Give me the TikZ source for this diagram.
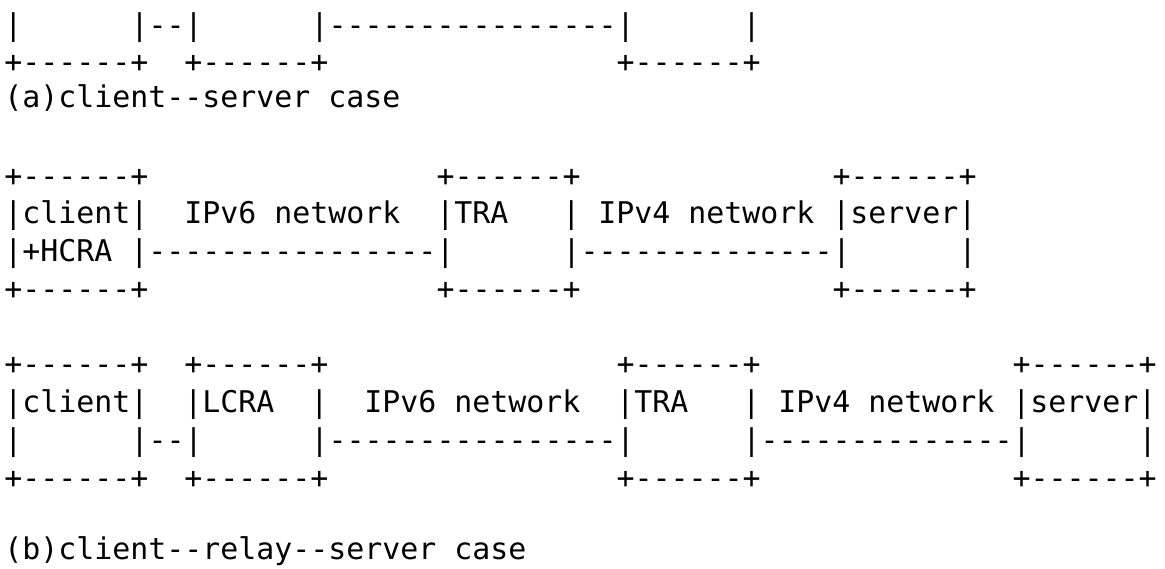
\documentclass[tikz,border=0pt]{standalone}
\usepackage{fontspec}
\setmonofont{DejaVu Sans Mono}
\begin{document}
\begin{tikzpicture}[x=1pt, y=-1pt,
  ascii/.style={anchor=base west, inner sep=0pt, outer sep=0pt,
    font=\ttfamily\fontsize{29.9}{37.75}\selectfont, text=black}]
  \useasboundingbox (0,0) rectangle (1165,568);
  % baseline of text line k sits at about 35.2 + 37.75 k
  \def\lx{4.5}
  \node[ascii] (row0)  at (\lx, 35.2)  {|~~~~~~|--|~~~~~~|----------------|~~~~~~|};
  \node[ascii] (row1)  at (\lx, 72.95) {+------+~~+------+~~~~~~~~~~~~~~~~+------+};
  \node[ascii] (row2)  at (\lx, 107.5) {(a)client--server~case};
  % (a) client--server with HCRA
  \node[ascii] (row4)  at (\lx, 186.2) {+------+~~~~~~~~~~~~~~~~+------+~~~~~~~~~~~~~~+------+};
  \node[ascii] (row5)  at (\lx, 223.95){|client|~~IPv6~network~~|TRA~~~|~IPv4~network~|server|};
  \node[ascii] (row6)  at (\lx, 261.7) {|+HCRA~|----------------|~~~~~~|--------------|~~~~~~|};
  \node[ascii] (row7)  at (\lx, 299.45){+------+~~~~~~~~~~~~~~~~+------+~~~~~~~~~~~~~~+------+};
  % (b) client--relay--server
  \node[ascii] (row9)  at (\lx, 374.95){+------+~~+------+~~~~~~~~~~~~~~~~+------+~~~~~~~~~~~~~~+------+};
  \node[ascii] (row10) at (\lx, 412.7) {|client|~~|LCRA~~|~~IPv6~network~~|TRA~~~|~IPv4~network~|server|};
  \node[ascii] (row11) at (\lx, 450.45){|~~~~~~|--|~~~~~~|----------------|~~~~~~|--------------|~~~~~~|};
  \node[ascii] (row12) at (\lx, 488.2) {+------+~~+------+~~~~~~~~~~~~~~~~+------+~~~~~~~~~~~~~~+------+};
  \node[ascii] (row14) at (\lx, 559.5) {(b)client--relay--server~case};
\end{tikzpicture}
\end{document}
